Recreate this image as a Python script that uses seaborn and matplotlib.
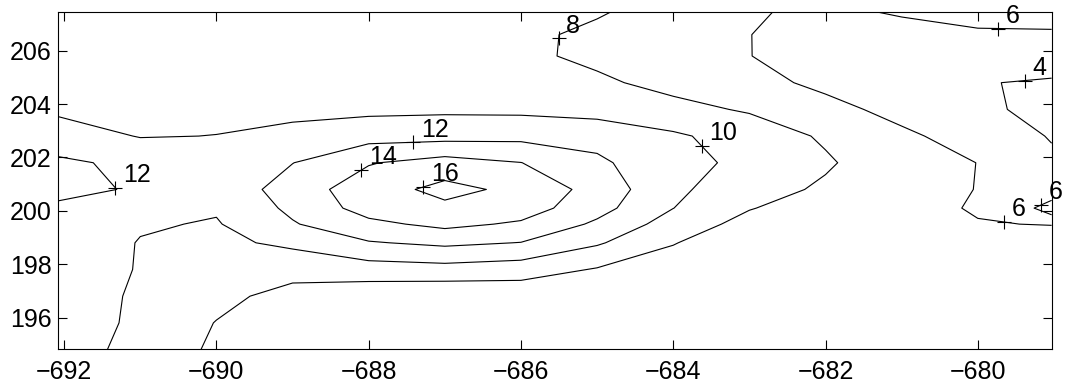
import numpy as np
import matplotlib
matplotlib.use("Agg")
import matplotlib.pyplot as plt
import seaborn as sns

# ---- grid coordinates ----
x_grid = [-692.08, -691, -690, -689, -688, -687, -686, -685, -684, -683, -682, -681, -680, -679.03]
y_grid = [194.81, 195.8, 196.8, 197.8, 198.8, 199.5, 200.1, 200.8, 201.8, 202.8,
          203.8, 204.8, 205.8, 206.6, 207.46]

# ---- field values, one list per grid row (bottom to top) ----
z_r00 = [10.68, 9.55, 7.61, 7.0, 6.8, 6.6, 6.7, 6.8, 6.9, 6.9, 7.0, 7.0, 7.1, 7.2]
z_r01 = [10.86, 9.7, 7.93, 7.0, 6.7, 6.5, 6.6, 6.8, 6.9, 6.9, 7.0, 7.0, 7.1, 7.2]
z_r02 = [10.92, 9.75, 8.6, 7.24, 6.67, 6.37, 6.6, 6.9, 6.9, 6.8, 6.8, 6.9, 7.0, 7.1]
z_r03 = [11.46, 9.85, 9.3, 8.78, 9.09, 9.28, 8.96, 7.85, 7.3, 6.9, 6.8, 6.8, 6.9, 7.0]
z_r04 = [11.44, 9.9, 9.6, 10.37, 11.85, 12.4, 11.95, 10.24, 8.07, 7.0, 6.8, 6.8, 6.9, 7.0]
z_r05 = [11.3, 10.2, 9.85, 11.84, 13.53, 14.5, 13.72, 11.66, 9.12, 7.35, 6.9, 6.5, 6.09, 5.93]
z_r06 = [11.37, 10.9, 10.2, 12.42, 14.81, 15.55, 14.98, 12.7, 10.02, 8.1, 7.0, 6.6, 5.84, 6.05]
z_r07 = [13.0, 11.6, 10.5, 13.0, 15.06, 16.6, 15.5, 13.26, 10.4, 8.8, 7.7, 6.8, 5.95, 5.93]
z_r08 = [12.3, 11.6, 10.6, 11.96, 13.87, 14.8, 14.03, 12.35, 10.68, 9.51, 8.24, 6.74, 5.98, 4.3]
z_r09 = [11.0, 9.9, 10.03, 10.52, 11.24, 11.32, 11.46, 11.35, 10.3, 9.1, 7.74, 6.4, 5.07, 3.89]
z_r10 = [9.63, 9.4, 9.53, 9.52, 9.56, 9.67, 9.59, 9.21, 8.54, 7.8, 6.67, 5.33, 4.6, 3.1]
z_r11 = [9.4, 9.2, 9.2, 9.2, 9.2, 9.2, 9.0, 8.31, 7.44, 6.7, 5.5, 4.9, 4.07, 3.85]
z_r12 = [9.3, 9.1, 9.0, 9.0, 9.0, 8.9, 8.36, 7.6, 6.9, 6.03, 5.2, 4.8, 4.6, 4.73]
z_r13 = [9.2, 9.0, 8.9, 8.9, 8.9, 8.8, 8.5, 7.5, 6.8, 6.02, 5.4, 5.5, 5.8, 5.85]
z_r14 = [9.1, 9.0, 8.9, 8.8, 8.8, 8.7, 8.6, 8.23, 7.0, 6.13, 5.71, 6.15, 6.51, 6.5]

levels = [4, 6, 8, 10, 12, 14, 16]

# ---- contour labels (level, approximate position along the line) ----
label_levels = [12, 12, 14, 16, 10, 8, 6, 4, 6, 6]
label_x = [-691.30, -687.42, -688.17, -687.26, -683.59, -685.55, -679.74, -679.51, -679.69, -679.16]
label_y = [200.87, 202.65, 201.57, 200.87, 202.44, 206.46, 206.75, 205.38, 199.50, 200.22]

x_ticks = [-692, -690, -688, -686, -684, -682, -680]
y_ticks = [196, 198, 200, 202, 204, 206]

sns.set_theme(style="ticks")
plt.rcParams['font.family'] = ['Liberation Sans', 'DejaVu Sans']
plt.rcParams['axes.unicode_minus'] = True

Z = np.array([z_r00, z_r01, z_r02, z_r03, z_r04, z_r05, z_r06, z_r07,
              z_r08, z_r09, z_r10, z_r11, z_r12, z_r13, z_r14])

fig = plt.figure(figsize=(10.73, 3.90), dpi=100)
fig.patch.set_facecolor('white')
ax = fig.add_axes([0.0541, 0.1044, 0.9260, 0.8656])
ax.set_facecolor('white')

cs = ax.contour(x_grid, y_grid, Z, levels=levels, colors='black', linewidths=0.8)


def nearest_on_level(segs, px, py):
    best = None
    bd = np.inf
    for seg in segs:
        if len(seg) < 2:
            continue
        a = seg[:-1]
        b = seg[1:]
        d = b - a
        L = (d ** 2).sum(axis=1)
        L[L == 0] = 1e-12
        t = ((px - a[:, 0]) * d[:, 0] + (py - a[:, 1]) * d[:, 1]) / L
        t = np.clip(t, 0, 1)
        q = a + d * t[:, None]
        dist = (q[:, 0] - px) ** 2 + (q[:, 1] - py) ** 2
        i = np.argmin(dist)
        if dist[i] < bd:
            bd = dist[i]
            best = q[i]
    return best

mx, my = [], []
for lvl, lx, ly in zip(label_levels, label_x, label_y):
    segs = cs.allsegs[levels.index(lvl)]
    p = nearest_on_level(segs, lx, ly)
    if p is None:
        p = (lx, ly)
    mx.append(p[0])
    my.append(p[1])
    ax.annotate(str(lvl), (p[0], p[1]), xytext=(5.5, 4.0), textcoords='offset points',
                ha='left', va='baseline', fontsize=18, color='black',
                annotation_clip=False)

sns.scatterplot(x=mx, y=my, marker='+', s=90, color='black', linewidth=0.8, ax=ax,
                legend=False, zorder=5)

ax.set_xlim(x_grid[0], x_grid[-1])
ax.set_ylim(y_grid[0], y_grid[-1])
ax.set_xticks(x_ticks)
ax.set_yticks(y_ticks)
ax.tick_params(direction='in', length=6.5, width=0.8, top=True, right=True,
               labelsize=18, colors='black')
ax.tick_params(axis='x', pad=8)
ax.tick_params(axis='y', pad=4.5)
for s in ax.spines.values():
    s.set_visible(True)
    s.set_linewidth(0.8)
    s.set_color('black')
ax.grid(False)
ax.set_xlabel('')
ax.set_ylabel('')

fig.savefig('out.png', dpi=100, facecolor='white')
